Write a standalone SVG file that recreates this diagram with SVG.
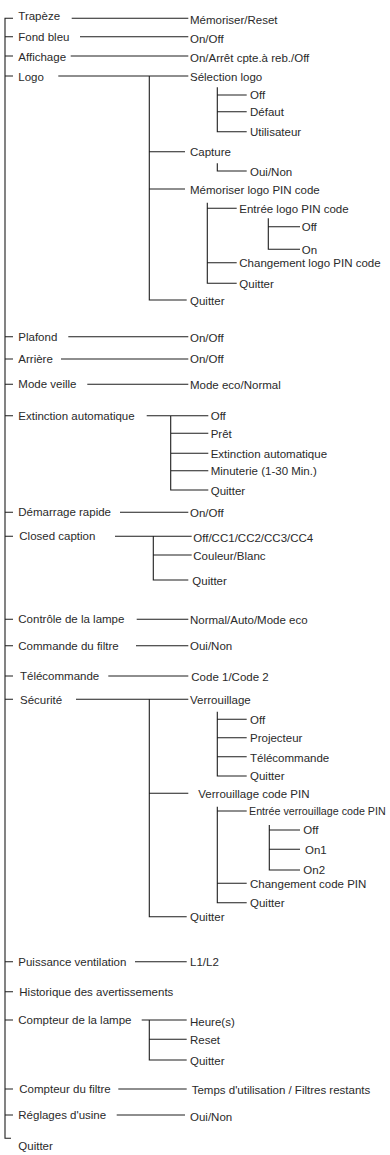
<svg xmlns="http://www.w3.org/2000/svg" width="390" height="1155" viewBox="0 0 390 1155">
<style>
text{font-family:"Liberation Sans",Arial,sans-serif;font-size:11.5px;fill:#2a2a2a}
.c path{fill:none;stroke:#1e1e1e;stroke-width:1.1}
</style>
<rect width="390" height="1155" fill="#fff"/>
<g id="connectors" class="c">
<path d="M13,18.3H5V1138.3H11"/>
<path d="M5,36.7H13M5,56H13M5,76H13M5,336.7H13M5,359H13M5,384.3H13M5,415.7H13M5,512.3H13M5,536.3H13M5,619.3H13M5,645.7H13M5,676H13M5,699.3H13M5,961.7H13M5,991.7H13M5,1020H13M5,1089H13M5,1115H13"/>
<path d="M71.7,18.3H188.3M80,36.7H188.3M70.7,56H188.3M58.3,76H188.3"/>
<path d="M149.3,76V300H186.7M149.3,151.7H185M149.3,189H185"/>
<path d="M217.3,87.3V131.7H246.7M217.3,95H246.7M217.3,111.7H246.7"/>
<path d="M217.3,163.3V171H246.7"/>
<path d="M207.3,202.7V283.3H236.7M207.3,208.3H236.7M207.3,262.7H236.7"/>
<path d="M268.3,218.3V249.3H300M268.3,226.7H300"/>
<path d="M68.3,336.7H188.3M61,359H188.3M87.3,384.3H188.3"/>
<path d="M146.7,415.7H208.3M170.7,415.7V490H208.3M170.7,433.3H208.3M170.7,453.3H208.3M170.7,470.7H208.3"/>
<path d="M120,512.3H188.3"/>
<path d="M115,536.3H191.7M153.3,536.3V580H188.3M153.3,555H191.7"/>
<path d="M136.7,619.3H188.3M136,645.7H188.3M108.3,676H188.3"/>
<path d="M76,699.3H188.3M149.3,699.3V916.7H186.7M149.3,793.3H188.3"/>
<path d="M217.3,711.7V776H246.7M217.3,719.3H246.7M217.3,737.7H246.7M217.3,756.7H246.7"/>
<path d="M217.3,806.7V902.7H246.7M217.3,811H246.7M217.3,883.3H246.7"/>
<path d="M269.3,825V870H300M269.3,830H300M269.3,849.3H300"/>
<path d="M135,961.7H186.7"/>
<path d="M141.7,1020H186.7M149.3,1020V1060H186.7M149.3,1039.3H186.7"/>
<path d="M118.3,1089H186.7M116.7,1115H185"/>
</g>
<g id="n-trapeze"><text x="18.3" y="20">Trapèze</text><text x="190" y="24">Mémoriser/Reset</text></g>
<g id="n-fond-bleu"><text x="18.3" y="40.7">Fond bleu</text><text x="190" y="42.7">On/Off</text></g>
<g id="n-affichage"><text x="18.3" y="60.5">Affichage</text><text x="190" y="61.5">On/Arrêt cpte.à reb./Off</text></g>
<g id="n-logo"><text x="18.3" y="80.7">Logo</text><text x="190" y="80.5">Sélection logo</text>
<text x="250" y="99">Off</text><text x="250" y="116">Défaut</text><text x="250" y="136">Utilisateur</text>
<text x="190" y="156">Capture</text><text x="250" y="175.5">Oui/Non</text>
<text x="190" y="193.5">Mémoriser logo PIN code</text>
<text x="239.3" y="212.5">Entrée logo PIN code</text><text x="301.7" y="231">Off</text><text x="301.7" y="253.5">On</text>
<text x="239.3" y="267">Changement logo PIN code</text><text x="239.3" y="287.5">Quitter</text>
<text x="190" y="304.5">Quitter</text></g>
<g id="n-plafond"><text x="18.3" y="341">Plafond</text><text x="190" y="341.5">On/Off</text></g>
<g id="n-arriere"><text x="18.3" y="362.5">Arrière</text><text x="190" y="362.8">On/Off</text></g>
<g id="n-mode-veille"><text x="18.3" y="388.3">Mode veille</text><text x="190" y="389">Mode eco/Normal</text></g>
<g id="n-extinction"><text x="18.3" y="419.5">Extinction automatique</text>
<text x="210.7" y="420">Off</text><text x="210.7" y="437.5">Prêt</text><text x="210.7" y="457.5">Extinction automatique</text><text x="210.7" y="475">Minuterie (1-30 Min.)</text><text x="210.7" y="494.5">Quitter</text></g>
<g id="n-demarrage"><text x="18.3" y="516.3">Démarrage rapide</text><text x="190" y="517">On/Off</text></g>
<g id="n-closed-caption"><text x="19.3" y="540">Closed caption</text><text x="193.3" y="541.5">Off/CC1/CC2/CC3/CC4</text><text x="193.3" y="559.5">Couleur/Blanc</text><text x="192.3" y="584.5">Quitter</text></g>
<g id="n-controle-lampe"><text x="18.3" y="623.3">Contrôle de la lampe</text><text x="190" y="624.3">Normal/Auto/Mode eco</text></g>
<g id="n-commande-filtre"><text x="18.3" y="649.7">Commande du filtre</text><text x="190" y="650.3">Oui/Non</text></g>
<g id="n-telecommande"><text x="20" y="680">Télécommande</text><text x="191.3" y="680.5">Code 1/Code 2</text></g>
<g id="n-securite"><text x="20" y="703.8">Sécurité</text><text x="190" y="703.5">Verrouillage</text>
<text x="250" y="723.5">Off</text><text x="250" y="742">Projecteur</text><text x="250" y="761.5">Télécommande</text><text x="250" y="780">Quitter</text>
<text x="198.3" y="797.5">Verrouillage code PIN</text>
<text x="249" y="815" style="font-size:10.7px">Entrée verrouillage code PIN</text>
<text x="303.3" y="834">Off</text><text x="305" y="853.5">On1</text><text x="303.3" y="874">On2</text>
<text x="250" y="887.5">Changement code PIN</text><text x="250" y="907">Quitter</text>
<text x="190" y="921">Quitter</text></g>
<g id="n-ventilation"><text x="18.3" y="965.7">Puissance ventilation</text><text x="190" y="966">L1/L2</text></g>
<g id="n-historique"><text x="19.3" y="995.7">Historique des avertissements</text></g>
<g id="n-compteur-lampe"><text x="18.3" y="1023.5">Compteur de la lampe</text><text x="190" y="1025.5">Heure(s)</text><text x="190" y="1043.5">Reset</text><text x="190" y="1064.5">Quitter</text></g>
<g id="n-compteur-filtre"><text x="19.3" y="1093">Compteur du filtre</text><text x="191.7" y="1093.5">Temps d'utilisation / Filtres restants</text></g>
<g id="n-reglages"><text x="18.3" y="1119">Réglages d'usine</text><text x="190" y="1121">Oui/Non</text></g>
<g id="n-quitter"><text x="18.3" y="1150">Quitter</text></g>
</svg>
